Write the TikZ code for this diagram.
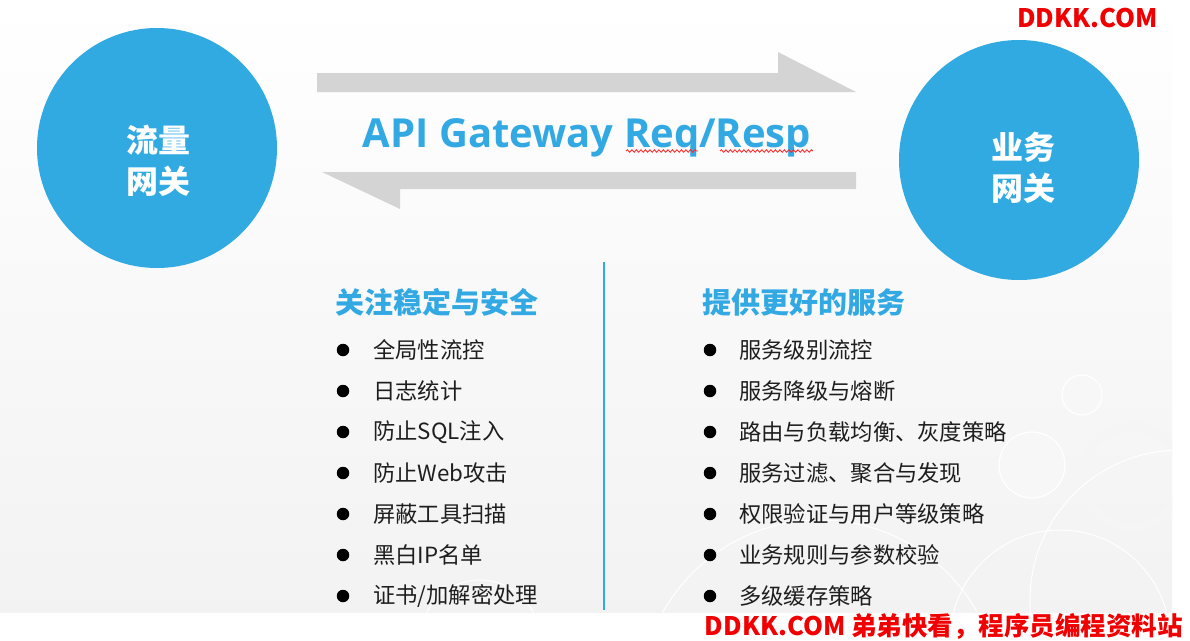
\documentclass[tikz,border=0pt]{standalone}
\usepackage{fontspec}
\setmainfont{Noto Sans CJK SC}
\newfontfamily\cjk{Noto Sans CJK SC}
\newfontfamily\latinb{Open Sans}
\usetikzlibrary{decorations.pathmorphing}
\definecolor{cblue}{HTML}{31A9E1}
\definecolor{tblue}{HTML}{33A9E3}
\definecolor{agrey}{HTML}{D4D4D4}
\definecolor{itemc}{HTML}{1E1E1E}
\definecolor{wred}{HTML}{F00000}
\tikzset{
  bigcircle/.style={circle,fill=cblue,minimum size=240pt,inner sep=0pt},
  circtext/.style={text=white,inner sep=0pt,
    font=\cjk\bfseries\fontsize{32}{41}\selectfont,align=center},
  garrow/.style={fill=agrey,draw=none},
  heading/.style={font=\cjk\bfseries\fontsize{29}{32}\selectfont,text=tblue,anchor=west,inner sep=0pt},
  item/.style={font=\cjk\fontsize{22.3}{26}\selectfont,text=itemc,anchor=west,inner sep=0pt},
  dot/.style={circle,fill=black,minimum size=12.5pt,inner sep=0pt},
  wmark/.style={font=\cjk\bfseries\fontsize{25.5}{30}\selectfont,text=wred,inner sep=0pt},
  squiggle/.style={draw=red!85,line width=0.8pt,decorate,decoration={snake,amplitude=1.3pt,segment length=4.5pt}},
  deco/.style={fill=black!3,draw=white,line width=1.2pt}
}
\begin{document}
\begin{tikzpicture}[x=1pt,y=-1pt]
\useasboundingbox (0,0) rectangle (1190,640);
\fill[white] (0,0) rectangle (1190,640);
% slide background
\fill[top color=white,bottom color=black!5] (0,0) rectangle (1172,612);
% faint decorative circles
\begin{scope}
\clip (0,0) rectangle (1172,612);
\draw[deco] (1082,395) circle (20);
\draw[deco] (1032,465) circle (33);
\draw[draw=black!4,line width=9pt] (1132,477) circle (50);
\draw[draw=white,line width=1pt] (1060,640) circle (110);
\draw[draw=white,line width=1pt] (1180,600) circle (150);
\draw[draw=white,line width=1pt] (480,640) circle (60);
\draw[draw=white,line width=1pt] (820,700) circle (180);
\end{scope}
% circles
\node[bigcircle] (lg) at (157,148) {};
\node[circtext] (lgt) at (158,161) {流量\\网关};
\node[bigcircle] (bg) at (1019,160) {};
\node[circtext] (bgt) at (1023,168) {业务\\网关};
% arrows
\fill[garrow] (317,73) -- (778,73) -- (778,52) -- (856,92) -- (317,92) -- cycle;
\fill[garrow] (322,172) -- (856,172) -- (856,189) -- (400,189) -- (400,209) -- cycle;
% title
\node[font=\latinb\bfseries\fontsize{40}{44}\selectfont,text=tblue,anchor=base,inner sep=0pt] (title) at (587,147) {API Gateway Req/Resp};
\draw[squiggle] (626,151) -- (698,151);
\draw[squiggle] (720,151) -- (813,151);
% divider
\coordinate (dtop) at (604,262);
\coordinate (dbot) at (604,610);
\draw[tblue,line width=1.5pt] (dtop) -- (dbot);
% headings
\node[heading] (lh) at (335,302) {关注稳定与安全};
\node[heading] (rh) at (702,302) {提供更好的服务};
% lists
\foreach \t [count=\i] in {全局性流控,日志统计,防止SQL注入,防止Web攻击,屏蔽工具扫描,黑白IP名单,证书/加解密处理}{
  \pgfmathsetmacro\yy{350+41*(\i-1)}
  \node[dot] (ld\i) at (343,\yy) {};
  \node[item] (l\i) at (373,\yy) {\t};
}
\foreach \t [count=\i] in {服务级别流控,服务降级与熔断,路由与负载均衡、灰度策略,服务过滤、聚合与发现,权限验证与用户等级策略,业务规则与参数校验,多级缓存策略}{
  \pgfmathsetmacro\yy{350+41*(\i-1)}
  \node[dot] (rd\i) at (710,\yy) {};
  \node[item] (r\i) at (739,\yy) {\t};
}
% watermarks
\node[wmark,anchor=east] (w1) at (1158,18) {DDKK.COM};
\node[wmark,anchor=east] (w2) at (1183,626) {DDKK.COM 弟弟快看，程序员编程资料站};
\end{tikzpicture}
\end{document}
